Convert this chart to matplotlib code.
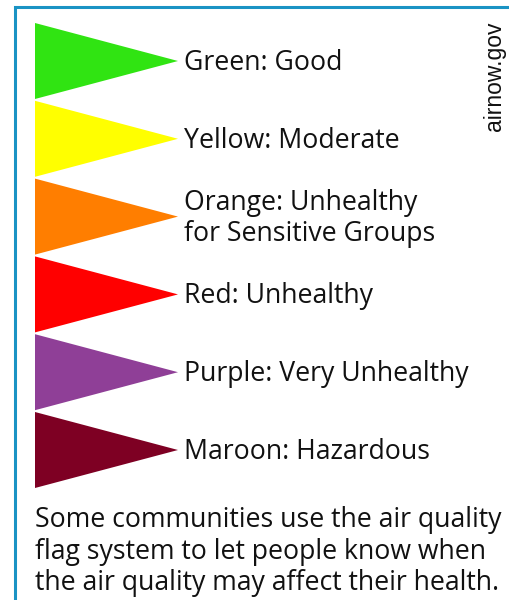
import matplotlib.pyplot as plt
from matplotlib.patches import Polygon

# AQI flag categories
labels = ["Green: Good", "Yellow: Moderate", "Orange: Unhealthy\nfor Sensitive Groups",
          "Red: Unhealthy", "Purple: Very Unhealthy", "Maroon: Hazardous"]
colors = ["#30e412", "#ffff00", "#ff7e00", "#ff0000", "#8f3f97", "#7e0023"]
note = ["Some communities use the air quality",
        "flag system to let people know when",
        "the air quality may affect their health."]
source = "airnow.gov"

fig = plt.figure(figsize=(5.09, 6.0), dpi=100)
ax = fig.add_axes([0, 0, 1, 1])
ax.set_xlim(0, 509)
ax.set_ylim(600, 0)
ax.axis("off")

# frame (runs off the right and bottom edges)
ax.plot([15, 15, 520], [610, 7, 7], color="#1a93c4", lw=2.2, solid_joinstyle="miter")

x0, x1 = 35, 178
top, step, h = 23, 77.8, 76
for i, (lab, c) in enumerate(zip(labels, colors)):
    y = top + i * step
    ax.add_patch(Polygon([[x0, y], [x1, y + h / 2], [x0, y + h]], closed=True,
                         facecolor=c, edgecolor="none"))
    ax.text(x1 + 6, y + h / 2 + 2, lab, fontsize=19.2, family="Open Sans",
            color="#111111", va="center", ha="left", linespacing=1.15)

for i, line in enumerate(note):
    ax.text(35, 527 + i * 31.5, line, fontsize=19.2, family="Open Sans",
            color="#111111", va="baseline", ha="left")

ax.text(495, 76, source, fontsize=16.5, family="Liberation Sans", color="#111111",
        rotation=90, va="center", ha="center")

fig.savefig("out.png", dpi=100)
